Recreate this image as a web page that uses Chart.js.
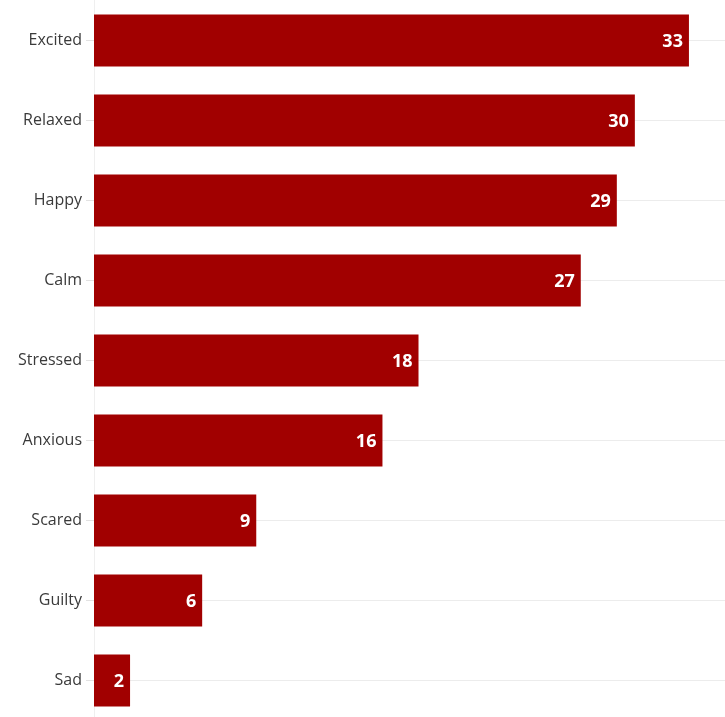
<!DOCTYPE html>
<html>
<head>
<meta charset="utf-8">
<script src="https://cdn.jsdelivr.net/npm/chart.js@4.4.1/dist/chart.umd.min.js"></script>
<style>
  html, body { margin: 0; padding: 0; background: #fff; height: 717px; overflow: hidden; }
  /* el lienzo sobresale un poco para que las barras llenen todo el alto */
  #wrap { width: 725px; height: 747px; margin-top: -13px; }
</style>
</head>
<body>
<div id="wrap"><canvas id="myChart"></canvas></div>
<script>
const emociones = ["Excited", "Relaxed", "Happy", "Calm", "Stressed", "Anxious", "Scared", "Guilty", "Sad"];
const valores = [33, 30, 29, 27, 18, 16, 9, 6, 2];

const rojo = "#a10000";

// escribe el valor en blanco al final de cada barra
const etiquetasValor = {
  id: "etiquetasValor",
  afterDatasetsDraw(chart) {
    const ctx = chart.ctx;
    const meta = chart.getDatasetMeta(0);
    ctx.save();
    ctx.fillStyle = "#ffffff";
    ctx.font = "bold 18px 'Open Sans'";
    ctx.textAlign = "right";
    ctx.textBaseline = "middle";
    meta.data.forEach((barra, i) => {
      ctx.fillText(String(valores[i]), barra.x - 6, barra.y + 1);
    });
    ctx.restore();
  },
};

const config = {
  type: "bar",
  data: {
    labels: emociones,
    datasets: [
      {
        data: valores,
        backgroundColor: rojo,
        borderWidth: 0,
        barPercentage: 0.65,
        categoryPercentage: 1,
      },
    ],
  },
  options: {
    indexAxis: "y",
    responsive: true,
    maintainAspectRatio: false,
    animation: false,
    layout: { padding: 0 },
    plugins: {
      legend: { display: false },
      tooltip: { enabled: false },
    },
    scales: {
      x: {
        display: false,
        min: 0,
        max: 35,
      },
      y: {
        afterFit(scale) {
          scale.width = 94;
        },
        grid: {
          offset: false,
          color: "#ececec",
          tickLength: 8,
          tickColor: "#e2e2e2",
        },
        border: { color: "#efefef" },
        ticks: {
          color: "#3a3a3a",
          padding: 4,
          font: { family: "Open Sans", size: 16 },
        },
      },
    },
  },
  plugins: [etiquetasValor],
};

new Chart(document.getElementById("myChart"), config);
</script>
</body>
</html>
